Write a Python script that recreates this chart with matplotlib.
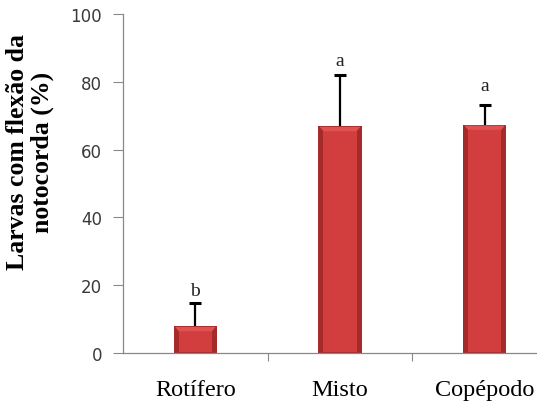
import matplotlib
matplotlib.use("Agg")
import matplotlib.pyplot as plt
from matplotlib.patches import Polygon

# Percentage of larvae with notochord flexion per diet
categories = ["Rotífero", "Misto", "Copépodo"]
means = [8.0, 67.0, 67.4]
sd = [6.7, 15.0, 5.8]
letters = ["b", "a", "a"]
letter_y = [18.3, 86.4, 78.8]
y_ticks = [0, 20, 40, 60, 80, 100]

fig = plt.figure(figsize=(5.37, 4.06), dpi=100)
ax = fig.add_axes([123 / 537, 52 / 406, 434 / 537, 339 / 406])

x = list(range(len(categories)))
width = 0.30

# bar body: dark rim, then a lighter inner face and a bevelled top
outer = ax.bar(x, means, width=width, color="#a52a2a", zorder=2)
inset = 0.035
for b in outer:
    bx, bw, bh = b.get_x(), b.get_width(), b.get_height()
    bev = min(1.6, bh * 0.2)
    ax.add_patch(Polygon([(bx + inset, 0.15), (bx + bw - inset, 0.15),
                          (bx + bw - inset, bh - bev), (bx + inset, bh - bev)],
                         closed=True, facecolor="#d23d3d", edgecolor="none", zorder=3))
    ax.add_patch(Polygon([(bx + 0.01, bh - 0.3), (bx + bw - 0.01, bh - 0.3),
                          (bx + bw - inset, bh - bev), (bx + inset, bh - bev)],
                         closed=True, facecolor="#e05252", edgecolor="none", zorder=3))

# upper error bars only
eb = ax.errorbar(x, means, yerr=[[0] * len(sd), sd], fmt="none", ecolor="black",
                 elinewidth=1.6, capsize=4.5, capthick=2.2, zorder=4)
eb[1][0].set_visible(False)

for xi, lab, ly in zip(x, letters, letter_y):
    ax.text(xi, ly, lab, ha="center", va="center", fontsize=14,
            family="Liberation Serif", color="#222222")

ax.set_xlim(-0.5, len(categories) - 0.5)
ax.set_ylim(0, 100)
ax.set_yticks(y_ticks)
ax.set_yticklabels([str(t) for t in y_ticks], family="DejaVu Sans",
                   fontsize=12, color="#3a3a3a")
ax.set_xticks(x)
ax.set_xticklabels(categories, family="Liberation Serif", fontsize=17.5)
ax.set_xticks([0.5, 1.5], minor=True)
ax.tick_params(axis="x", which="major", length=0, pad=19)
ax.tick_params(axis="x", which="minor", length=6, color="#888888", width=0.8)
ax.tick_params(axis="y", length=7, color="#888888", width=0.8, pad=8)

for side in ("top", "right"):
    ax.spines[side].set_visible(False)
for side in ("left", "bottom"):
    ax.spines[side].set_color("#888888")
    ax.spines[side].set_linewidth(0.9)

fig.text(30 / 537, 1 - 152 / 406, "Larvas com flexão da\nnotocorda (%)",
         family="Liberation Serif", fontweight="bold", fontsize=18.5,
         rotation=90, ha="center", va="center", multialignment="center",
         linespacing=1.1)

fig.savefig("out.png", dpi=100)
